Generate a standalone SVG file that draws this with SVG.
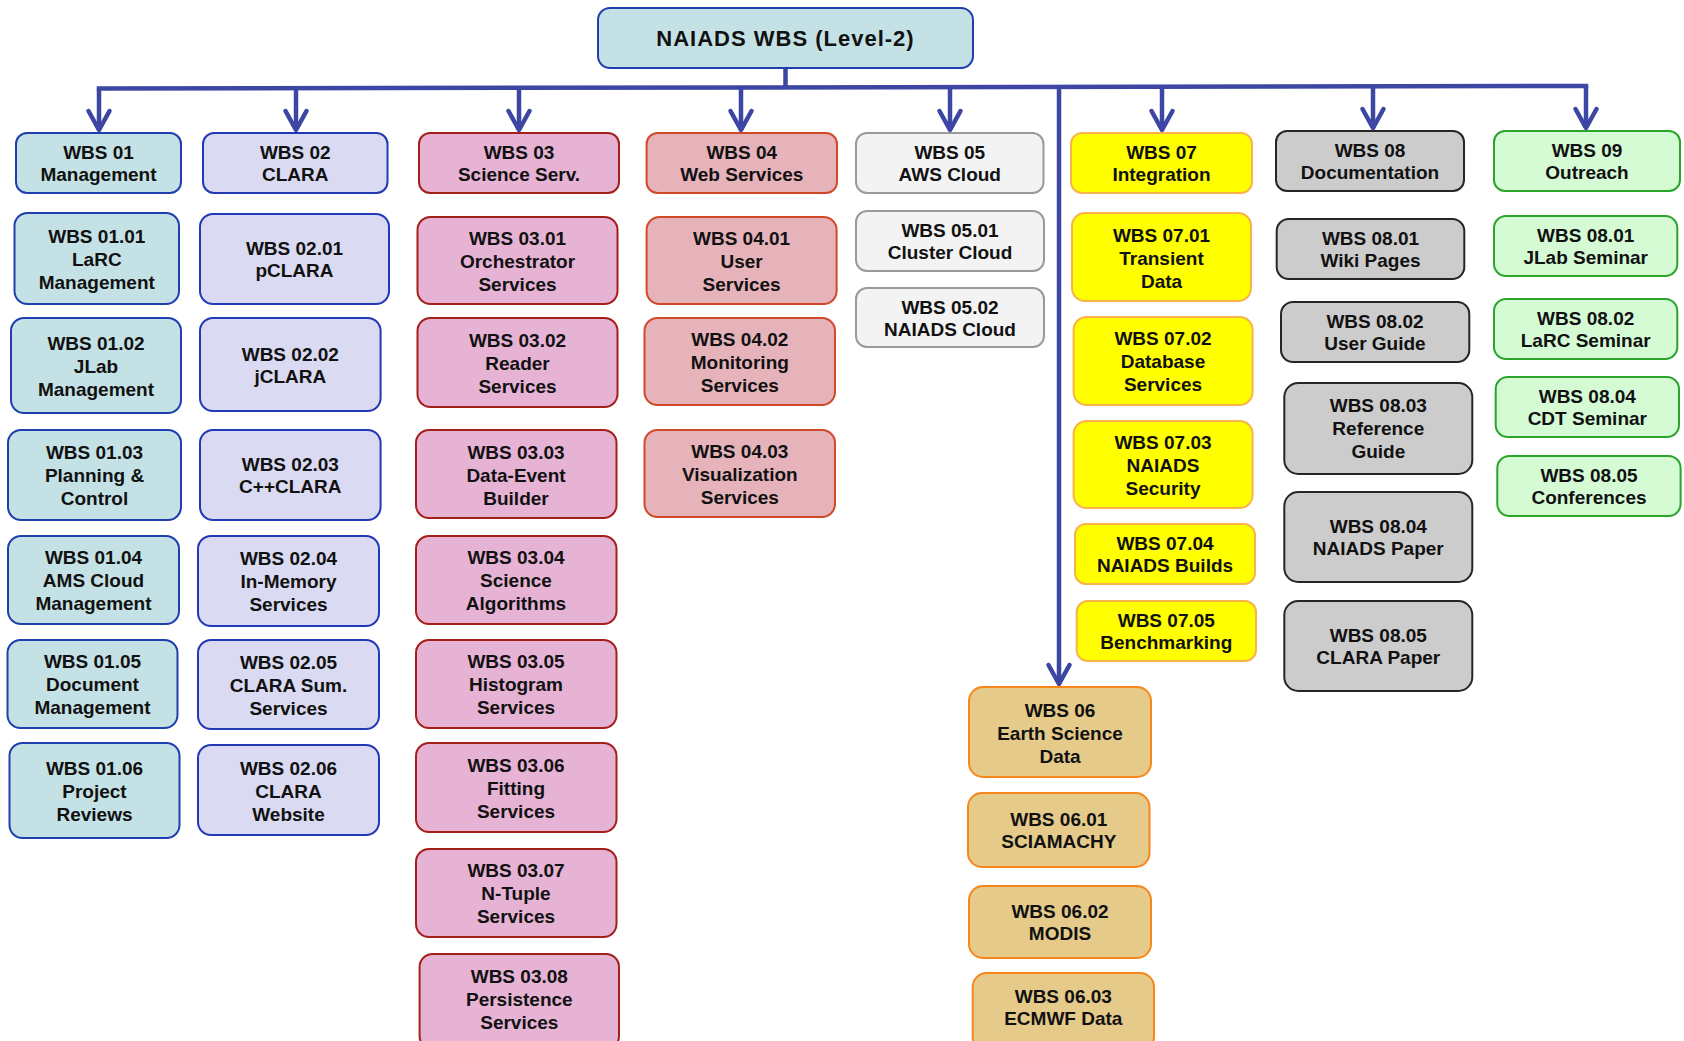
<svg xmlns="http://www.w3.org/2000/svg" width="1684" height="1041" viewBox="0 0 1684 1041">
  <defs>
    <marker id="arr" markerUnits="userSpaceOnUse" markerWidth="30" markerHeight="30" viewBox="-24 -15 30 30" refX="0" refY="0" orient="auto" overflow="visible">
      <path d="M-19,-10.5 L0,0 L-19,10.5" fill="none" stroke="#3d46a3" stroke-width="4.5" stroke-linejoin="round" stroke-linecap="round"/>
    </marker>
    <style>
      rect { stroke-width: 2; }
      text { font-family: "Liberation Sans", Arial, sans-serif; font-weight: bold; font-size: 19px; fill: #111; text-anchor: middle; }
      .root rect { fill: #c4e2e6; stroke: #1f3fae; }
      .root text { font-size: 22px; letter-spacing: 1px; }
      .c1 rect { fill: #c4e2e6; stroke: #1f3fae; }
      .c2 rect { fill: #dadaf2; stroke: #2338b5; }
      .c3 rect { fill: #e7b3d5; stroke: #a3201a; }
      .c4 rect { fill: #e7b3bb; stroke: #cf4a28; }
      .c5 rect { fill: #f3f3f3; stroke: #9a9a9a; }
      .c6 rect { fill: #e5ca8a; stroke: #f7861b; }
      .c7 rect { fill: #ffff00; stroke: #f8b34a; }
      .c8 rect { fill: #cccccc; stroke: #262626; }
      .c9 rect { fill: #d5fbd5; stroke: #2aa52a; }
      #connectors path { fill: none; stroke: #3d46a3; stroke-width: 4.5; }
    </style>
  </defs>

  <rect width="1684" height="1041" fill="#ffffff"/>

  <!-- connectors: trunk, bus and drops -->
  <g id="connectors">
    <path d="M785.5,68 V88"/>
    <path d="M99,88.5 L1586,86" stroke-linecap="square"/>
    <path d="M99,88.5 V130" marker-end="url(#arr)"/>
    <path d="M296,88.2 V130" marker-end="url(#arr)"/>
    <path d="M519,87.8 V130" marker-end="url(#arr)"/>
    <path d="M741,87.4 V130" marker-end="url(#arr)"/>
    <path d="M950,87.1 V130" marker-end="url(#arr)"/>
    <path d="M1059,86.9 V684" marker-end="url(#arr)"/>
    <path d="M1162,86.7 V130" marker-end="url(#arr)"/>
    <path d="M1373,86.4 V128" marker-end="url(#arr)"/>
    <path d="M1586,86 V128" marker-end="url(#arr)"/>
  </g>

  <!-- root -->
  <g id="root" class="root">
    <rect x="598" y="8" width="375" height="60" rx="12"/>
    <text x="785.5" y="46">NAIADS WBS (Level-2)</text>
  </g>

  <!-- WBS 01 Management -->
  <g id="n01" class="c1"><rect x="16" y="133" width="165" height="60" rx="11"/>
    <text x="98.5" y="159"><tspan x="98.5">WBS 01</tspan><tspan x="98.5" dy="22">Management</tspan></text></g>
  <g id="n0101" class="c1"><rect x="14.5" y="213" width="164.5" height="91" rx="13"/>
    <text x="96.8" y="242.5"><tspan x="96.8">WBS 01.01</tspan><tspan x="96.8" dy="23">LaRC</tspan><tspan x="96.8" dy="23">Management</tspan></text></g>
  <g id="n0102" class="c1"><rect x="11" y="318" width="170" height="95" rx="13"/>
    <text x="96" y="349.5"><tspan x="96">WBS 01.02</tspan><tspan x="96" dy="23">JLab</tspan><tspan x="96" dy="23">Management</tspan></text></g>
  <g id="n0103" class="c1"><rect x="8" y="430" width="173" height="90" rx="13"/>
    <text x="94.5" y="459"><tspan x="94.5">WBS 01.03</tspan><tspan x="94.5" dy="23">Planning &amp;</tspan><tspan x="94.5" dy="23">Control</tspan></text></g>
  <g id="n0104" class="c1"><rect x="8" y="536" width="171" height="88" rx="13"/>
    <text x="93.5" y="563.5"><tspan x="93.5">WBS 01.04</tspan><tspan x="93.5" dy="23">AMS Cloud</tspan><tspan x="93.5" dy="23">Management</tspan></text></g>
  <g id="n0105" class="c1"><rect x="7.5" y="640" width="170" height="88" rx="13"/>
    <text x="92.5" y="668"><tspan x="92.5">WBS 01.05</tspan><tspan x="92.5" dy="23">Document</tspan><tspan x="92.5" dy="23">Management</tspan></text></g>
  <g id="n0106" class="c1"><rect x="9.5" y="743" width="170" height="95" rx="13"/>
    <text x="94.5" y="774.5"><tspan x="94.5">WBS 01.06</tspan><tspan x="94.5" dy="23">Project</tspan><tspan x="94.5" dy="23">Reviews</tspan></text></g>

  <!-- WBS 02 CLARA -->
  <g id="n02" class="c2"><rect x="203" y="133" width="184.5" height="60" rx="11"/>
    <text x="295.3" y="159"><tspan x="295.3">WBS 02</tspan><tspan x="295.3" dy="22">CLARA</tspan></text></g>
  <g id="n0201" class="c2"><rect x="200" y="214" width="189" height="90" rx="13"/>
    <text x="294.5" y="255"><tspan x="294.5">WBS 02.01</tspan><tspan x="294.5" dy="22">pCLARA</tspan></text></g>
  <g id="n0202" class="c2"><rect x="200" y="318" width="180.6" height="93" rx="13"/>
    <text x="290.3" y="361"><tspan x="290.3">WBS 02.02</tspan><tspan x="290.3" dy="22">jCLARA</tspan></text></g>
  <g id="n0203" class="c2"><rect x="200" y="430" width="180.6" height="90" rx="13"/>
    <text x="290.3" y="471"><tspan x="290.3">WBS 02.03</tspan><tspan x="290.3" dy="22">C++CLARA</tspan></text></g>
  <g id="n0204" class="c2"><rect x="198" y="536" width="181" height="90" rx="13"/>
    <text x="288.5" y="565"><tspan x="288.5">WBS 02.04</tspan><tspan x="288.5" dy="23">In-Memory</tspan><tspan x="288.5" dy="23">Services</tspan></text></g>
  <g id="n0205" class="c2"><rect x="198" y="640" width="181" height="89" rx="13"/>
    <text x="288.5" y="668.5"><tspan x="288.5">WBS 02.05</tspan><tspan x="288.5" dy="23">CLARA Sum.</tspan><tspan x="288.5" dy="23">Services</tspan></text></g>
  <g id="n0206" class="c2"><rect x="198" y="745" width="181" height="90" rx="13"/>
    <text x="288.5" y="774.5"><tspan x="288.5">WBS 02.06</tspan><tspan x="288.5" dy="23">CLARA</tspan><tspan x="288.5" dy="23">Website</tspan></text></g>

  <!-- WBS 03 Science Services -->
  <g id="n03" class="c3"><rect x="419" y="133" width="200" height="60" rx="11"/>
    <text x="519" y="159"><tspan x="519">WBS 03</tspan><tspan x="519" dy="22">Science Serv.</tspan></text></g>
  <g id="n0301" class="c3"><rect x="417.5" y="217" width="200" height="87" rx="13"/>
    <text x="517.5" y="245"><tspan x="517.5">WBS 03.01</tspan><tspan x="517.5" dy="23">Orchestrator</tspan><tspan x="517.5" dy="23">Services</tspan></text></g>
  <g id="n0302" class="c3"><rect x="417.5" y="318" width="200" height="89" rx="13"/>
    <text x="517.5" y="347"><tspan x="517.5">WBS 03.02</tspan><tspan x="517.5" dy="23">Reader</tspan><tspan x="517.5" dy="23">Services</tspan></text></g>
  <g id="n0303" class="c3"><rect x="416" y="430" width="200.5" height="88" rx="13"/>
    <text x="516" y="458.5"><tspan x="516">WBS 03.03</tspan><tspan x="516" dy="23">Data-Event</tspan><tspan x="516" dy="23">Builder</tspan></text></g>
  <g id="n0304" class="c3"><rect x="416" y="536" width="200.5" height="88" rx="13"/>
    <text x="516" y="563.5"><tspan x="516">WBS 03.04</tspan><tspan x="516" dy="23">Science</tspan><tspan x="516" dy="23">Algorithms</tspan></text></g>
  <g id="n0305" class="c3"><rect x="416" y="640" width="200.5" height="88" rx="13"/>
    <text x="516" y="668"><tspan x="516">WBS 03.05</tspan><tspan x="516" dy="23">Histogram</tspan><tspan x="516" dy="23">Services</tspan></text></g>
  <g id="n0306" class="c3"><rect x="416" y="743" width="200.5" height="89" rx="13"/>
    <text x="516" y="772"><tspan x="516">WBS 03.06</tspan><tspan x="516" dy="23">Fitting</tspan><tspan x="516" dy="23">Services</tspan></text></g>
  <g id="n0307" class="c3"><rect x="416" y="849" width="200.5" height="88" rx="13"/>
    <text x="516" y="877"><tspan x="516">WBS 03.07</tspan><tspan x="516" dy="23">N-Tuple</tspan><tspan x="516" dy="23">Services</tspan></text></g>
  <g id="n0308" class="c3"><rect x="419.6" y="954" width="199.4" height="95" rx="13"/>
    <text x="519.3" y="982.7"><tspan x="519.3">WBS 03.08</tspan><tspan x="519.3" dy="23">Persistence</tspan><tspan x="519.3" dy="23">Services</tspan></text></g>

  <!-- WBS 04 Web Services -->
  <g id="n04" class="c4"><rect x="646.6" y="133" width="190.4" height="60" rx="11"/>
    <text x="741.8" y="159"><tspan x="741.8">WBS 04</tspan><tspan x="741.8" dy="22">Web Services</tspan></text></g>
  <g id="n0401" class="c4"><rect x="646.6" y="217" width="190" height="87" rx="13"/>
    <text x="741.6" y="245"><tspan x="741.6">WBS 04.01</tspan><tspan x="741.6" dy="23">User</tspan><tspan x="741.6" dy="23">Services</tspan></text></g>
  <g id="n0402" class="c4"><rect x="644.5" y="318" width="190.5" height="87" rx="13"/>
    <text x="739.8" y="346"><tspan x="739.8">WBS 04.02</tspan><tspan x="739.8" dy="23">Monitoring</tspan><tspan x="739.8" dy="23">Services</tspan></text></g>
  <g id="n0403" class="c4"><rect x="644.5" y="430" width="190.5" height="87" rx="13"/>
    <text x="739.8" y="458"><tspan x="739.8">WBS 04.03</tspan><tspan x="739.8" dy="23">Visualization</tspan><tspan x="739.8" dy="23">Services</tspan></text></g>

  <!-- WBS 05 AWS Cloud -->
  <g id="n05" class="c5"><rect x="856" y="133" width="187.5" height="60" rx="11"/>
    <text x="949.8" y="159"><tspan x="949.8">WBS 05</tspan><tspan x="949.8" dy="22">AWS Cloud</tspan></text></g>
  <g id="n0501" class="c5"><rect x="856" y="211" width="188" height="60" rx="11"/>
    <text x="950" y="237"><tspan x="950">WBS 05.01</tspan><tspan x="950" dy="22">Cluster Cloud</tspan></text></g>
  <g id="n0502" class="c5"><rect x="856" y="288" width="188" height="59" rx="11"/>
    <text x="950" y="314"><tspan x="950">WBS 05.02</tspan><tspan x="950" dy="22">NAIADS Cloud</tspan></text></g>

  <!-- WBS 06 Earth Science Data -->
  <g id="n06" class="c6"><rect x="969" y="687" width="182" height="90" rx="14"/>
    <text x="1060" y="716.5"><tspan x="1060">WBS 06</tspan><tspan x="1060" dy="23">Earth Science</tspan><tspan x="1060" dy="23">Data</tspan></text></g>
  <g id="n0601" class="c6"><rect x="968" y="793" width="181.5" height="74" rx="14"/>
    <text x="1058.8" y="825.8"><tspan x="1058.8">WBS 06.01</tspan><tspan x="1058.8" dy="22">SCIAMACHY</tspan></text></g>
  <g id="n0602" class="c6"><rect x="969" y="886" width="182" height="72" rx="14"/>
    <text x="1060" y="917.8"><tspan x="1060">WBS 06.02</tspan><tspan x="1060" dy="22">MODIS</tspan></text></g>
  <g id="n0603" class="c6"><rect x="972.7" y="973" width="181.3" height="78" rx="14"/>
    <text x="1063.3" y="1003.3"><tspan x="1063.3">WBS 06.03</tspan><tspan x="1063.3" dy="22">ECMWF Data</tspan></text></g>

  <!-- WBS 07 Integration -->
  <g id="n07" class="c7"><rect x="1071" y="133" width="181" height="60" rx="11"/>
    <text x="1161.5" y="159"><tspan x="1161.5">WBS 07</tspan><tspan x="1161.5" dy="22">Integration</tspan></text></g>
  <g id="n0701" class="c7"><rect x="1072" y="213" width="179" height="88" rx="13"/>
    <text x="1161.5" y="241.5"><tspan x="1161.5">WBS 07.01</tspan><tspan x="1161.5" dy="23">Transient</tspan><tspan x="1161.5" dy="23">Data</tspan></text></g>
  <g id="n0702" class="c7"><rect x="1073.6" y="317" width="179" height="88" rx="13"/>
    <text x="1163" y="345"><tspan x="1163">WBS 07.02</tspan><tspan x="1163" dy="23">Database</tspan><tspan x="1163" dy="23">Services</tspan></text></g>
  <g id="n0703" class="c7"><rect x="1073.6" y="421" width="179" height="87" rx="13"/>
    <text x="1163" y="449"><tspan x="1163">WBS 07.03</tspan><tspan x="1163" dy="23">NAIADS</tspan><tspan x="1163" dy="23">Security</tspan></text></g>
  <g id="n0704" class="c7"><rect x="1075" y="524" width="180" height="60" rx="11"/>
    <text x="1165" y="550"><tspan x="1165">WBS 07.04</tspan><tspan x="1165" dy="22">NAIADS Builds</tspan></text></g>
  <g id="n0705" class="c7"><rect x="1076.7" y="601" width="179.3" height="60" rx="11"/>
    <text x="1166.3" y="626.8"><tspan x="1166.3">WBS 07.05</tspan><tspan x="1166.3" dy="22">Benchmarking</tspan></text></g>

  <!-- WBS 08 Documentation -->
  <g id="n08" class="c8"><rect x="1276" y="131" width="188" height="60" rx="11"/>
    <text x="1370" y="157"><tspan x="1370">WBS 08</tspan><tspan x="1370" dy="22">Documentation</tspan></text></g>
  <g id="n0801" class="c8"><rect x="1276.7" y="219" width="187.6" height="60" rx="12"/>
    <text x="1370.5" y="244.8"><tspan x="1370.5">WBS 08.01</tspan><tspan x="1370.5" dy="22">Wiki Pages</tspan></text></g>
  <g id="n0802" class="c8"><rect x="1281" y="302" width="188.3" height="60" rx="12"/>
    <text x="1375" y="327.8"><tspan x="1375">WBS 08.02</tspan><tspan x="1375" dy="22">User Guide</tspan></text></g>
  <g id="n0803" class="c8"><rect x="1284.3" y="383" width="188" height="91" rx="14"/>
    <text x="1378.3" y="412.3"><tspan x="1378.3">WBS 08.03</tspan><tspan x="1378.3" dy="23">Reference</tspan><tspan x="1378.3" dy="23">Guide</tspan></text></g>
  <g id="n0804" class="c8"><rect x="1284.3" y="492" width="188" height="90" rx="14"/>
    <text x="1378.3" y="532.8"><tspan x="1378.3">WBS 08.04</tspan><tspan x="1378.3" dy="22">NAIADS Paper</tspan></text></g>
  <g id="n0805" class="c8"><rect x="1284.3" y="601" width="188" height="90" rx="14"/>
    <text x="1378.3" y="641.8"><tspan x="1378.3">WBS 08.05</tspan><tspan x="1378.3" dy="22">CLARA Paper</tspan></text></g>

  <!-- WBS 09 Outreach -->
  <g id="n09" class="c9"><rect x="1494" y="131" width="186" height="60" rx="11"/>
    <text x="1587" y="157"><tspan x="1587">WBS 09</tspan><tspan x="1587" dy="22">Outreach</tspan></text></g>
  <g id="n0901" class="c9"><rect x="1494" y="216" width="183.3" height="60" rx="12"/>
    <text x="1585.7" y="241.8"><tspan x="1585.7">WBS 08.01</tspan><tspan x="1585.7" dy="22">JLab Seminar</tspan></text></g>
  <g id="n0902" class="c9"><rect x="1494" y="299" width="183.3" height="60" rx="12"/>
    <text x="1585.7" y="324.8"><tspan x="1585.7">WBS 08.02</tspan><tspan x="1585.7" dy="22">LaRC Seminar</tspan></text></g>
  <g id="n0903" class="c9"><rect x="1495.7" y="377" width="183.3" height="60" rx="12"/>
    <text x="1587.3" y="402.8"><tspan x="1587.3">WBS 08.04</tspan><tspan x="1587.3" dy="22">CDT Seminar</tspan></text></g>
  <g id="n0904" class="c9"><rect x="1497.3" y="456" width="183.3" height="60" rx="12"/>
    <text x="1589" y="481.8"><tspan x="1589">WBS 08.05</tspan><tspan x="1589" dy="22">Conferences</tspan></text></g>
</svg>
